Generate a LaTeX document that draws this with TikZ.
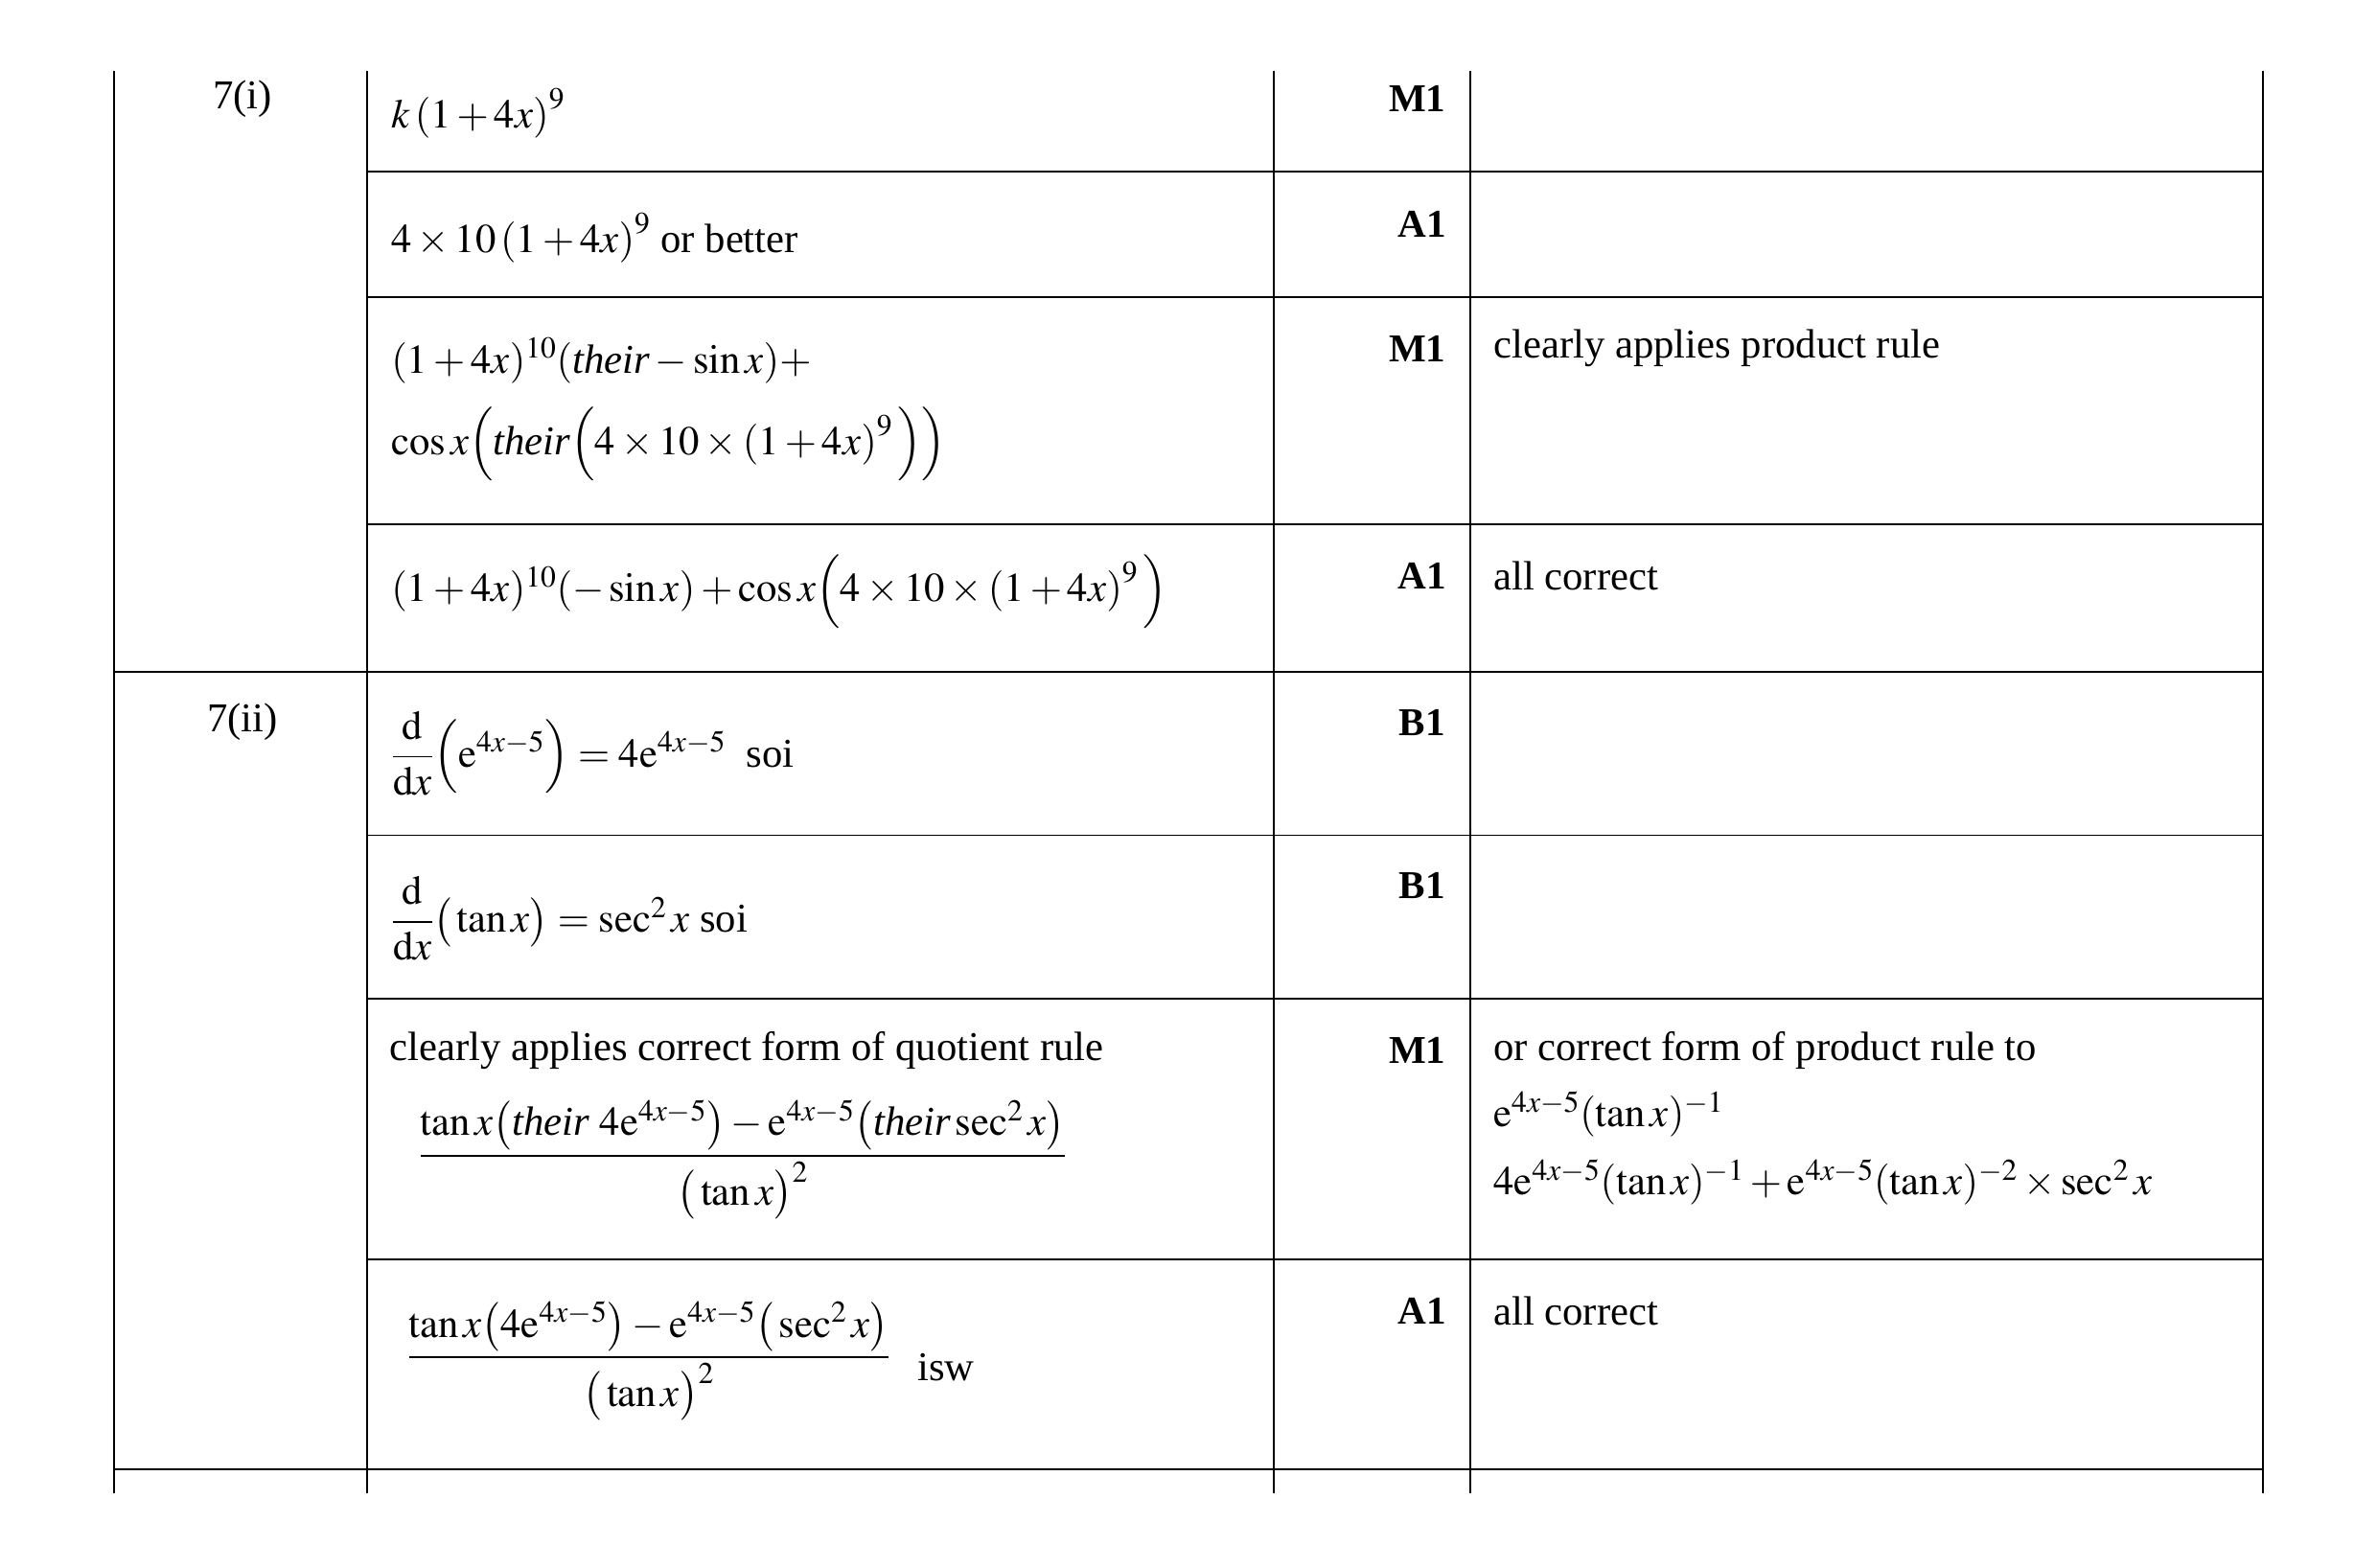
\documentclass[tikz,border=0pt]{standalone}
\usepackage{mathptmx}
\usepackage{amsmath}
\usepackage[no-math]{fontspec}
\setmainfont{Liberation Serif}
\begin{document}
\begin{tikzpicture}[x=1pt,y=-1pt,
  every node/.style={font=\fontsize{27}{32}\selectfont, inner sep=0pt},
  ln/.style={line width=1.2pt},
  mk/.style={font=\fontsize{26}{30}\selectfont\bfseries},
  tx/.style={anchor=west}]
\useasboundingbox (0,0) rectangle (1568,1034);
\draw[ln] (75,47) -- (75,985);
\foreach \x in {242,840,970,1493} \draw[ln] (\x,47) -- (\x,985);
\foreach \y in {113,196,346,551,659,831} \draw[ln] (242,\y) -- (1493,\y);
\foreach \y in {443,969} \draw[ln] (75,\y) -- (1493,\y);
\node (q1) at (160,65) {7(i)};
\node (q2) at (160,476) {7(ii)};
\node[tx] (r1) at (258,75) {$k\left(1+4x\right)^9$};
\node[tx] (r2) at (258,157) {$4\times10\left(1+4x\right)^9$ or better};
\node[tx] (r3a) at (258,238) {$(1+4x)^{10}(\textit{their}-\sin x)+$};
\node[tx] (r3b) at (258,293) {$\cos x\Big(\textit{their}\Big(4\times10\times\left(1+4x\right)^9\Big)\Big)$};
\node[tx] (r4) at (258,390) {$(1+4x)^{10}(-\sin x)+\cos x\Big(4\times10\times\left(1+4x\right)^9\Big)$};
\node[tx] (r5) at (258,497) {$\dfrac{\mathrm d}{\mathrm dx}\Big(\mathrm e^{4x-5}\Big)=4\mathrm e^{4x-5}$\ \ soi};
\node[tx] (r6) at (258,606) {$\dfrac{\mathrm d}{\mathrm dx}\big(\tan x\big)=\sec^2 x$ soi};
\node[tx] (r7) at (257,693) {clearly applies correct form of quotient rule};
\node (r7f) at (490,765) {$\dfrac{\tan x\big(\textit{their }4\mathrm e^{4x-5}\big)-\mathrm e^{4x-5}\big(\textit{their}\sec^2 x\big)}{\big(\tan x\big)^2}$};
\node (r8f) at (428,898) {$\dfrac{\tan x\big(4\mathrm e^{4x-5}\big)-\mathrm e^{4x-5}\big(\sec^2 x\big)}{\big(\tan x\big)^2}$};
\node[tx] (r8i) at (605,902) {isw};
\node[mk] (m1) at (935,65) {M1};
\node[mk] (m2) at (938,148) {A1};
\node[mk] (m3) at (935,230) {M1};
\node[mk] (m4) at (938,380) {A1};
\node[mk] (m5) at (938,477) {B1};
\node[mk] (m6) at (938,584) {B1};
\node[mk] (m7) at (935,693) {M1};
\node[mk] (m8) at (938,865) {A1};
\node[tx] (c3) at (985,230) {clearly applies product rule};
\node[tx] (c4) at (985,380) {all correct};
\node[tx] (c7a) at (985,693) {or correct form of product rule to};
\node[tx] (c7b) at (985,735) {$\mathrm e^{4x-5}(\tan x)^{-1}$};
\node[tx] (c7c) at (985,780) {$4\mathrm e^{4x-5}(\tan x)^{-1}+\mathrm e^{4x-5}(\tan x)^{-2}\times\sec^2 x$};
\node[tx] (c8) at (985,865) {all correct};
\end{tikzpicture}
\end{document}
